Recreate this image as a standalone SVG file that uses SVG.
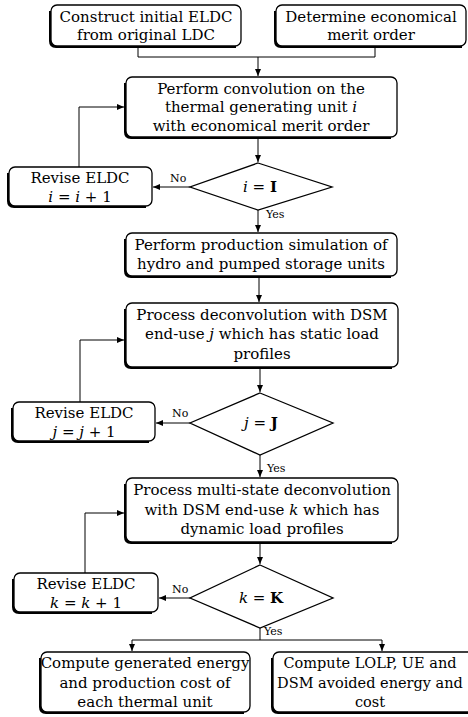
<svg xmlns="http://www.w3.org/2000/svg" width="468" height="717" viewBox="0 0 468 717">
<defs>
<marker id="ah" markerWidth="8" markerHeight="8" refX="7" refY="4" orient="auto" markerUnits="userSpaceOnUse">
<path d="M0,1 L7,4 L0,7 Z" fill="#000"/>
</marker>
<style>
.box{fill:#fff;stroke:#000;stroke-width:1.3}
.sh{fill:none;stroke:#000;stroke-width:3}
.ln{fill:none;stroke:#000;stroke-width:1}
.t{font-family:"DejaVu Serif","Liberation Serif",serif;font-size:15px;text-anchor:middle;fill:#000}
.t2{font-size:14.5px}
.s{font-family:"DejaVu Serif","Liberation Serif",serif;font-size:11px;fill:#000}
.i{font-style:italic}
.b{font-weight:bold}
</style>
</defs>
<rect width="468" height="717" fill="#fff"/>
<g id="connectors">
<path class="ln" d="M138,47 V57 H375 V47"/>
<path class="ln" d="M258,57 V76" marker-end="url(#ah)"/>
<path class="ln" d="M258,138 V162" marker-end="url(#ah)"/>
<path class="ln" d="M190,187 H153" marker-end="url(#ah)"/>
<path class="ln" d="M79,167 V107 H124" marker-end="url(#ah)"/>
<path class="ln" d="M258,210 V232" marker-end="url(#ah)"/>
<path class="ln" d="M259,277 V302" marker-end="url(#ah)"/>
<path class="ln" d="M260,368 V392" marker-end="url(#ah)"/>
<path class="ln" d="M190,423 H156" marker-end="url(#ah)"/>
<path class="ln" d="M80,402 V340 H124" marker-end="url(#ah)"/>
<path class="ln" d="M260,455 V477" marker-end="url(#ah)"/>
<path class="ln" d="M260,543 V564" marker-end="url(#ah)"/>
<path class="ln" d="M190,598 H159" marker-end="url(#ah)"/>
<path class="ln" d="M85,573 V513 H124" marker-end="url(#ah)"/>
<path class="ln" d="M260,628 V640"/>
<path class="ln" d="M132,640 H382"/>
<path class="ln" d="M132,640 V651" marker-end="url(#ah)"/>
<path class="ln" d="M382,640 V651" marker-end="url(#ah)"/>
<text class="s" x="170" y="182">No</text>
<text class="s" x="266" y="218">Yes</text>
<text class="s" x="172" y="417">No</text>
<text class="s" x="267" y="472">Yes</text>
<text class="s" x="172" y="593">No</text>
<text class="s" x="264" y="635">Yes</text>
</g>
<g id="n1">
<path class="sh" d="M50.5,11 V41 Q50.5,46.5 56,46.5 H236"/>
<rect class="box" x="51" y="5" width="190" height="41" rx="6"/>
<text class="t" x="146" y="22">Construct initial ELDC</text>
<text class="t" x="146" y="40">from original LDC</text>
</g>
<g id="n2">
<path class="sh" d="M275.5,11 V41 Q275.5,46.5 281,46.5 H462"/>
<rect class="box" x="276" y="5" width="190" height="41" rx="6"/>
<text class="t" x="371" y="22">Determine economical</text>
<text class="t" x="371" y="40">merit order</text>
</g>
<g id="n3">
<path class="sh" d="M125.5,83 V132 Q125.5,137.5 131,137.5 H391"/>
<rect class="box" x="126" y="77" width="271" height="60" rx="6"/>
<text class="t" x="261" y="94">Perform convolution on the</text>
<text class="t" x="261" y="112">thermal generating unit <tspan class="i">i</tspan></text>
<text class="t" x="261" y="131">with economical merit order</text>
</g>
<g id="d1">
<polygon class="box" points="258,163 332,187 258,210 190,187"/>
<text class="t" x="260" y="192"><tspan class="i">i</tspan> = <tspan class="b">I</tspan></text>
</g>
<g id="r1">
<path class="sh" d="M8.5,173 V201 Q8.5,206.5 14,206.5 H146"/>
<rect class="box" x="9" y="167" width="143" height="39" rx="6"/>
<text class="t" x="80" y="183">Revise ELDC</text>
<text class="t" x="80" y="202"><tspan class="i">i</tspan> = <tspan class="i">i</tspan> + 1</text>
</g>
<g id="n4">
<path class="sh" d="M125.5,239 V271 Q125.5,276.5 131,276.5 H391"/>
<rect class="box" x="126" y="233" width="271" height="43" rx="6"/>
<text class="t" x="261" y="250">Perform production simulation of</text>
<text class="t" x="261" y="269">hydro and pumped storage units</text>
</g>
<g id="n5">
<path class="sh" d="M125.5,309 V362 Q125.5,367.5 131,367.5 H392"/>
<rect class="box" x="126" y="303" width="272" height="64" rx="6"/>
<text class="t" x="262" y="320">Process deconvolution with DSM</text>
<text class="t" x="262" y="339">end-use <tspan class="i">j</tspan> which has static load</text>
<text class="t" x="262" y="359">profiles</text>
</g>
<g id="d2">
<polygon class="box" points="260,393 333,423 260,455 190,423"/>
<text class="t" x="261" y="428"><tspan class="i">j</tspan> = <tspan class="b">J</tspan></text>
</g>
<g id="r2">
<path class="sh" d="M12.5,408 V436 Q12.5,441.5 18,441.5 H149"/>
<rect class="box" x="13" y="402" width="142" height="39" rx="6"/>
<text class="t" x="84" y="418">Revise ELDC</text>
<text class="t" x="84" y="437"><tspan class="i">j</tspan> = <tspan class="i">j</tspan> + 1</text>
</g>
<g id="n6">
<path class="sh" d="M125.5,484 V537 Q125.5,542.5 131,542.5 H392"/>
<rect class="box" x="126" y="478" width="272" height="64" rx="6"/>
<text class="t" x="262" y="495">Process multi-state deconvolution</text>
<text class="t" x="262" y="515">with DSM end-use <tspan class="i">k</tspan> which has</text>
<text class="t" x="262" y="534">dynamic load profiles</text>
</g>
<g id="d3">
<polygon class="box" points="260,565 333,598 260,628 190,598"/>
<text class="t" x="261" y="603"><tspan class="i">k</tspan> = <tspan class="b">K</tspan></text>
</g>
<g id="r3">
<path class="sh" d="M13.5,579 V607 Q13.5,612.5 19,612.5 H152"/>
<rect class="box" x="14" y="573" width="144" height="39" rx="6"/>
<text class="t" x="86" y="589">Revise ELDC</text>
<text class="t" x="86" y="608"><tspan class="i">k</tspan> = <tspan class="i">k</tspan> + 1</text>
</g>
<g id="n7">
<path class="sh" d="M40.5,658 V707 Q40.5,712.5 46,712.5 H244"/>
<rect class="box" x="41" y="652" width="209" height="60" rx="6"/>
<text class="t" x="145" y="668">Compute generated energy</text>
<text class="t" x="145" y="688">and production cost of</text>
<text class="t" x="145" y="707">each thermal unit</text>
</g>
<g id="n8">
<path class="sh" d="M272.5,658 V707 Q272.5,712.5 278,712.5 H480"/>
<rect class="box" x="273" y="652" width="210" height="60" rx="6"/>
<text class="t t2" x="370" y="668">Compute LOLP, UE and</text>
<text class="t t2" x="370" y="688">DSM avoided energy and</text>
<text class="t t2" x="370" y="707">cost</text>
</g>
</svg>
